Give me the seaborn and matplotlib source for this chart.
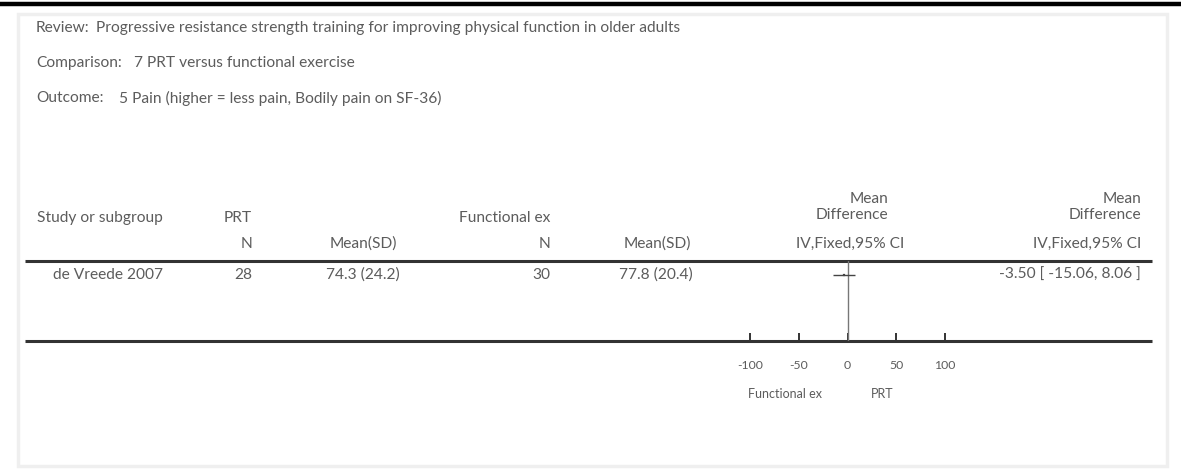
import matplotlib
matplotlib.use("Agg")
import matplotlib.pyplot as plt
import matplotlib.transforms as mtransforms
import pandas as pd
import seaborn as sns

# header info
review = "Progressive resistance strength training for improving physical function in older adults"
comparison = "7 PRT versus functional exercise"
outcome = "5 Pain (higher = less pain, Bodily pain on SF-36)"

# study rows
studies = ["de Vreede 2007"]
prt_n = [28]
prt_mean = [74.3]
prt_sd = [24.2]
fx_n = [30]
fx_mean = [77.8]
fx_sd = [20.4]
md = [-3.50]
ci_low = [-15.06]
ci_high = [8.06]

# forest axis
x_ticks = [-100, -50, 0, 50, 100]
left_label = "Functional ex"
right_label = "PRT"

df = pd.DataFrame({
    "study": studies, "prt_n": prt_n, "prt_mean": prt_mean, "prt_sd": prt_sd,
    "fx_n": fx_n, "fx_mean": fx_mean, "fx_sd": fx_sd,
    "md": md, "lo": ci_low, "hi": ci_high,
})
df["row"] = range(len(df))

sns.set_theme(style="white")
plt.rcParams["font.family"] = ["Lato", "DejaVu Sans"]

W, H = 1181, 469
fig = plt.figure(figsize=(W / 100, H / 100), dpi=100)
fig.patch.set_facecolor("white")

# background axes in pixel units for the table layout
bg = fig.add_axes([0, 0, 1, 1])
bg.set_xlim(0, W)
bg.set_ylim(H, 0)
bg.axis("off")

txt = "#5c5c5c"
fs = 11.2

bg.plot([0, W], [4, 4], color="black", lw=3.2, solid_capstyle="butt")
bg.add_patch(plt.Rectangle((18, 14), 1149, 452, fill=False, ec="#efefef", lw=2.5))

bg.text(36, 28, "Review:", color=txt, fontsize=fs, va="center")
bg.text(96, 28, review, color=txt, fontsize=fs, va="center")
bg.text(36, 63, "Comparison:", color=txt, fontsize=fs, va="center")
bg.text(134, 63, comparison, color=txt, fontsize=fs, va="center")
bg.text(36, 98, "Outcome:", color=txt, fontsize=fs, va="center")
bg.text(119, 98, outcome, color=txt, fontsize=fs, va="center")

# column headers
bg.text(37, 218, "Study or subgroup", color=txt, fontsize=fs, va="center")
bg.text(252, 218, "PRT", color=txt, fontsize=fs, va="center", ha="right")
bg.text(550, 218, "Functional ex", color=txt, fontsize=fs, va="center", ha="right")
bg.text(888, 199, "Mean", color=txt, fontsize=fs, va="center", ha="right")
bg.text(888, 215, "Difference", color=txt, fontsize=fs, va="center", ha="right")
bg.text(1141, 199, "Mean", color=txt, fontsize=fs, va="center", ha="right")
bg.text(1141, 215, "Difference", color=txt, fontsize=fs, va="center", ha="right")

bg.text(252, 244, "N", color=txt, fontsize=fs, va="center", ha="right")
bg.text(363, 244, "Mean(SD)", color=txt, fontsize=fs, va="center", ha="center")
bg.text(550, 244, "N", color=txt, fontsize=fs, va="center", ha="right")
bg.text(657, 244, "Mean(SD)", color=txt, fontsize=fs, va="center", ha="center")
bg.text(850, 244, "IV,Fixed,95% CI", color=txt, fontsize=fs, va="center", ha="center")
bg.text(1141, 244, "IV,Fixed,95% CI", color=txt, fontsize=fs, va="center", ha="right")

bg.plot([25, 1152], [261, 261], color="#333333", lw=2.2, solid_capstyle="butt")
bg.plot([25, 1152], [341, 341], color="#333333", lw=2.2, solid_capstyle="butt")

for i, r in df.iterrows():
    y = 275 + i * 20
    bg.text(53, y, r["study"], color=txt, fontsize=fs, va="center")
    bg.text(252, y, f"{r['prt_n']}", color=txt, fontsize=fs, va="center", ha="right")
    bg.text(363, y, f"{r['prt_mean']:.1f} ({r['prt_sd']:.1f})", color=txt, fontsize=fs,
            va="center", ha="center")
    bg.text(550, y, f"{r['fx_n']}", color=txt, fontsize=fs, va="center", ha="right")
    bg.text(656, y, f"{r['fx_mean']:.1f} ({r['fx_sd']:.1f})", color=txt, fontsize=fs,
            va="center", ha="center")
    bg.text(1141, y, f"{r['md']:.2f} [ {r['lo']:.2f}, {r['hi']:.2f} ]", color=txt,
            fontsize=fs, va="center", ha="right")

# forest plot axes: -100..100 maps onto pixels 750..945, rows between the two rules
x0, x1 = 750, 945
y_top, y_bot = 261, 341
ax = fig.add_axes([x0 / W, (H - y_bot) / H, (x1 - x0) / W, (y_bot - y_top) / H])
ax.set_facecolor("none")
ax.set_xlim(-100, 100)
ax.set_ylim(4.71, -1)
for s in ax.spines.values():
    s.set_visible(False)

ax.axvline(0, color="#777777", lw=1.0)
ax.hlines(df["row"], df["lo"], df["hi"], color="#444444", lw=1.0)
sns.scatterplot(data=df, x="md", y="row", marker="s", s=4, color="#444444",
                edgecolor="#444444", ax=ax, legend=False)

ax.set_xticks(x_ticks)
ax.set_xticklabels([str(t) for t in x_ticks])
ax.set_yticks([])
ax.set_xlabel("")
ax.set_ylabel("")
ax.tick_params(axis="x", direction="in", length=6, width=1.4, color="#333333",
               labelsize=8.8, labelcolor=txt, pad=14, bottom=True)

tr = mtransforms.blended_transform_factory(ax.transData, ax.transAxes)
ax.text(-64, -0.66, left_label, transform=tr, color=txt, fontsize=9, ha="center", va="center")
ax.text(35, -0.66, right_label, transform=tr, color=txt, fontsize=9, ha="center", va="center")

fig.savefig("out.png", dpi=100, facecolor="white")
